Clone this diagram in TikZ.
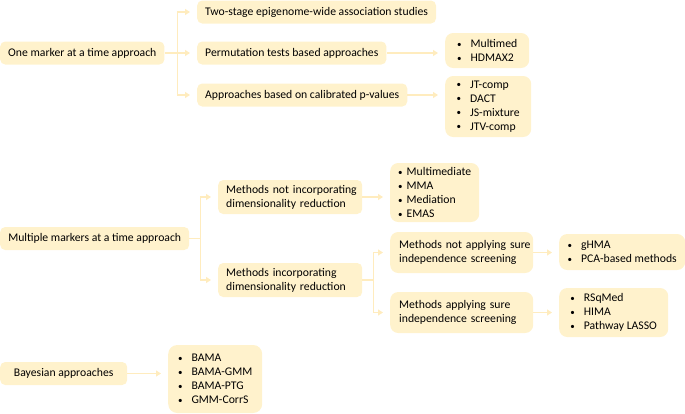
\documentclass[tikz,border=0pt]{standalone}
\usepackage{fontspec}
\setmainfont{Carlito}
\usetikzlibrary{arrows.meta}
\definecolor{boxfill}{RGB}{255,242,204}
\definecolor{linkcol}{RGB}{255,236,190}
\tikzstyle{box}=[anchor=west,fill=boxfill,rounded corners=5pt,inner xsep=8pt,inner ysep=0pt,align=left,font=\fontsize{11.7}{14}\selectfont]
\tikzstyle{list}=[box,rounded corners=8pt]
\tikzstyle{link}=[draw,linkcol,line width=1.8pt,rounded corners=0pt]
\tikzstyle{arrow}=[link,-{Triangle[length=5pt,width=6pt]},shorten >=7pt]
\newcommand{\bl}{\raisebox{0.5pt}{\small\textbullet}\hspace{9pt}}
\newcommand{\bls}{\raisebox{0.5pt}{\small\textbullet}\hspace{4pt}}

\begin{document}
\begin{tikzpicture}[x=1pt,y=-1pt]
  \useasboundingbox (0,0) rectangle (685,413);

  % Top level approaches
  \node[box,minimum width=164,minimum height=23] (one) at (0,53) {One marker at a time approach};
  \node[box,minimum width=189,minimum height=23] (multiple) at (0,238.5) {Multiple markers at a time approach};
  \node[box,minimum width=127,minimum height=23] (bayes) at (0,373.5) {Bayesian approaches};

  % One marker at a time
  \node[box,minimum width=230,minimum height=23] (twostage) at (197,12) {Two-stage epigenome-wide association studies};
  \node[box,minimum width=181,minimum height=23] (perm) at (197,53) {Permutation tests based approaches};
  \node[box,minimum width=204,minimum height=23] (calib) at (197,95) {Approaches based on calibrated p-values};
  \node[list,minimum width=84,minimum height=35] (multimed) at (445,50.5) {\bl Multimed\\\bl HDMAX2};
  \node[list,minimum width=86,minimum height=61] (jtcomp) at (445,106.5) {\bl JT-comp\\\bl DACT\\\bl JS-mixture\\\bl JTV-comp};

  % Multiple markers at a time
  \node[box,text width=128,minimum height=34] (notdim) at (218,197) {\mbox{Methods not incorporating}\\\mbox{dimensionality reduction}};
  \node[box,text width=128,minimum height=34] (dim) at (218,280) {\mbox{Methods incorporating}\\\mbox{dimensionality reduction}};
  \node[list,minimum width=89,minimum height=59,inner xsep=6pt] (multimediate) at (390,192.5) {\bls Multimediate\\\bls MMA\\\bls Mediation\\\bls EMAS};
  \node[list,text width=125,minimum height=41,inner xsep=9pt] (notsis) at (390,252.5) {\mbox{Methods not applying sure}\\\mbox{independence screening}};
  \node[list,text width=125,minimum height=41,inner xsep=9pt] (sis) at (390,312.5) {\mbox{Methods applying sure}\\\mbox{independence screening}};
  \node[list,minimum width=126,minimum height=36] (ghma) at (559,252) {\bl gHMA\\\bl PCA-based methods};
  \node[list,minimum width=109,minimum height=49] (rsqmed) at (559,312.5) {\bl RSqMed\\\bl HIMA\\\bl Pathway LASSO};

  % Bayesian
  \node[list,minimum width=94,minimum height=68,rounded corners=9pt] (bama) at (168,379) {\bl BAMA\\\bl BAMA-GMM\\\bl BAMA-PTG\\\bl GMM-CorrS};

  % Branch points
  \coordinate (b1) at ([xshift=13]one.east);
  \coordinate (b2) at ([xshift=11]multiple.east);
  \coordinate (b3) at ([xshift=11]dim.east);

  % Connect parents to branch points and branch points to children
  \foreach \source/\dest in {one/b1, multiple/b2, dim/b3}
    \path[link] (\source.east) -- (\dest);

  \foreach \source/\dest in {b1/twostage, b1/perm, b1/calib, b2/notdim, b2/dim, b3/notsis, b3/sis}
    \path[arrow] (\source) |- (\dest.west);

  % Direct arrows to the method lists
  \foreach \source/\dest in {perm/multimed, calib/jtcomp, notdim/multimediate, notsis/ghma, sis/rsqmed, bayes/bama}
    \path[arrow] (\source.east) -- (\source.east -| \dest.west);
\end{tikzpicture}
\end{document}
